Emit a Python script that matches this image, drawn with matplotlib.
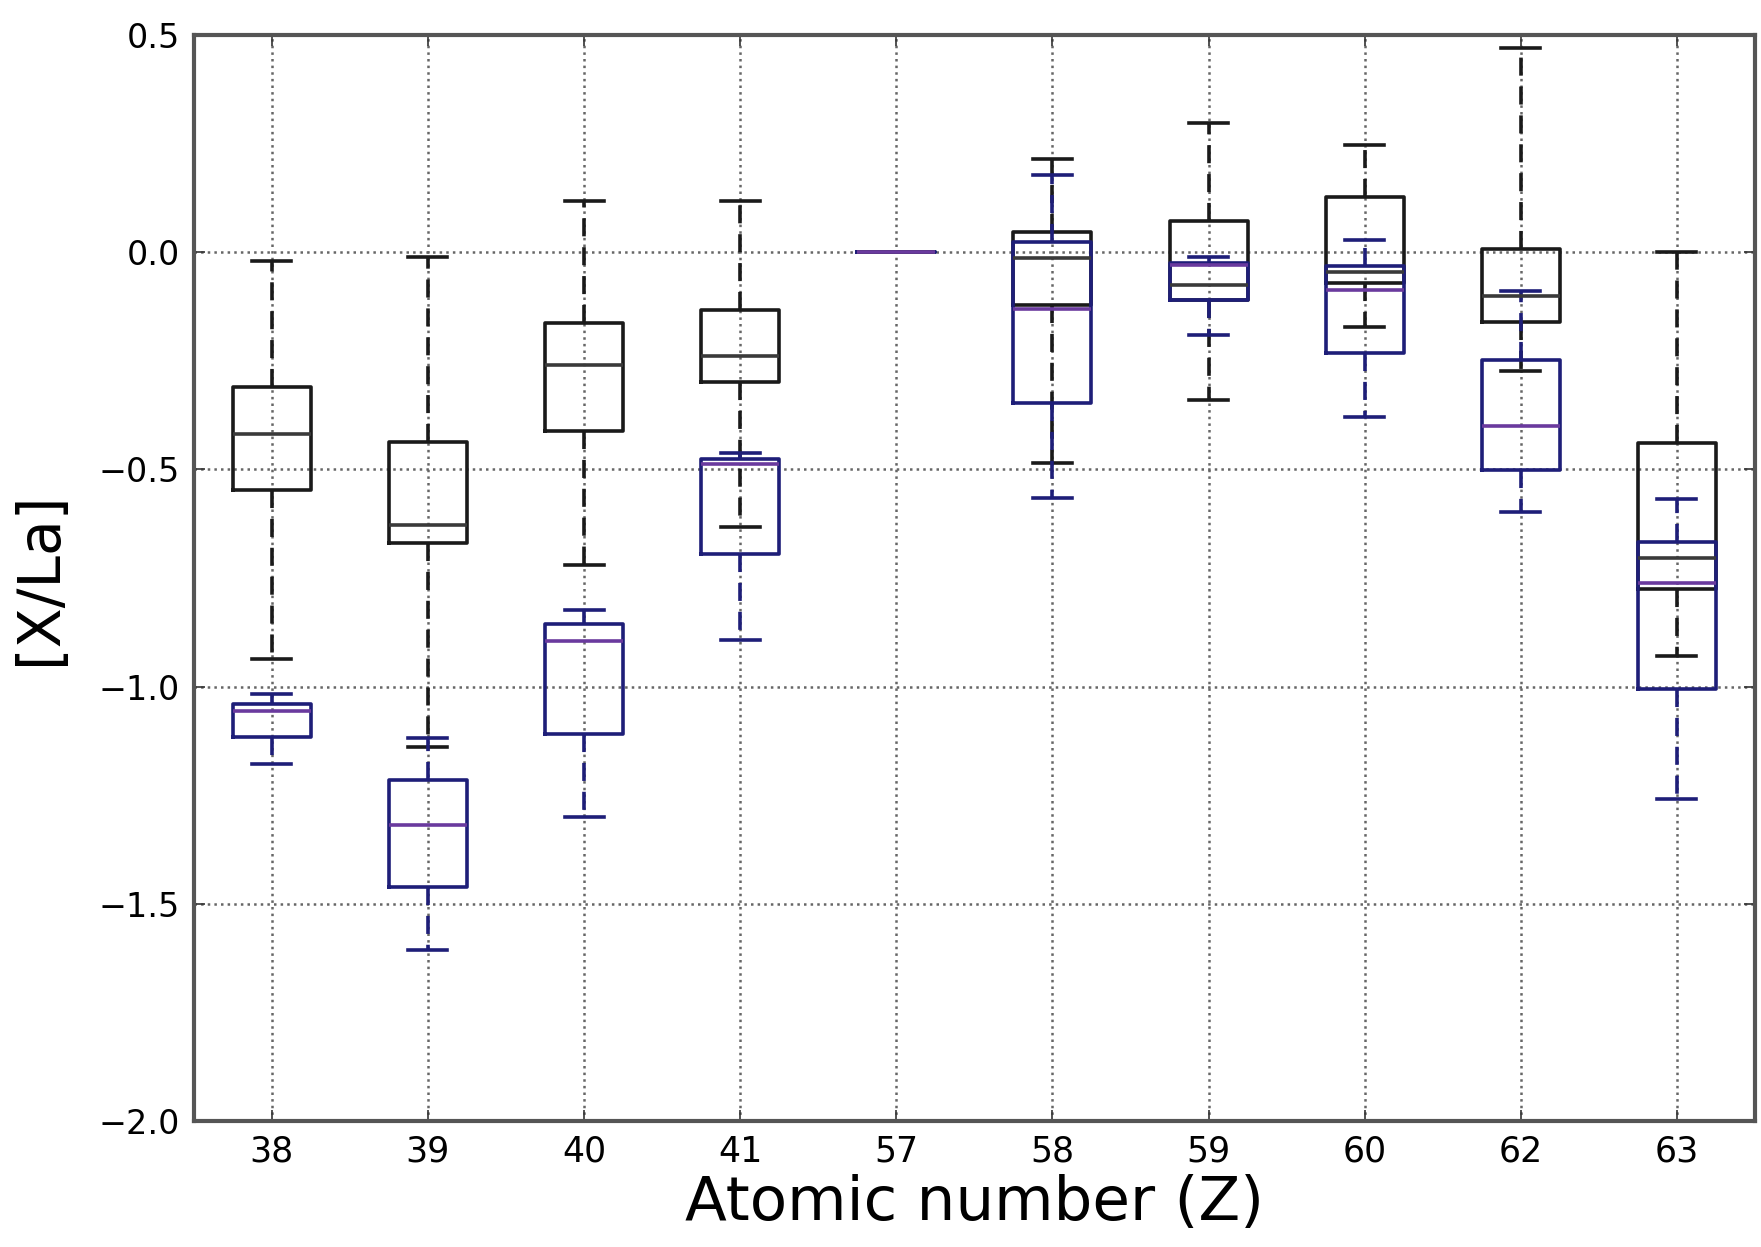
import matplotlib
matplotlib.use("Agg")
import matplotlib.pyplot as plt

# Atomic numbers on the x axis
atomic_z = ["38", "39", "40", "41", "57", "58", "59", "60", "62", "63"]

# First sample (black boxes): whisker ends, quartiles and medians of [X/La]
black_whishi = [-0.020, -0.012, 0.118, 0.117, 0.0, 0.214, 0.298, 0.247, 0.469, 0.0]
black_q3 = [-0.311, -0.438, -0.163, -0.134, 0.0, 0.047, 0.071, 0.126, 0.007, -0.439]
black_med = [-0.419, -0.628, -0.259, -0.240, 0.0, -0.013, -0.076, -0.045, -0.100, -0.705]
black_q1 = [-0.548, -0.669, -0.411, -0.298, 0.0, -0.121, -0.111, -0.071, -0.161, -0.776]
black_whislo = [-0.937, -1.138, -0.721, -0.632, 0.0, -0.485, -0.340, -0.172, -0.273, -0.930]

# Second sample (blue boxes)
blue_whishi = [-1.016, -1.118, -0.823, -0.462, 0.0, 0.177, -0.012, 0.028, -0.090, -0.569]
blue_q3 = [-1.039, -1.216, -0.857, -0.476, 0.0, 0.023, -0.024, -0.033, -0.248, -0.667]
blue_med = [-1.056, -1.318, -0.894, -0.488, 0.0, -0.131, -0.030, -0.086, -0.401, -0.761]
blue_q1 = [-1.116, -1.462, -1.110, -0.694, 0.0, -0.348, -0.111, -0.233, -0.501, -1.006]
blue_whislo = [-1.178, -1.607, -1.300, -0.892, 0.0, -0.565, -0.191, -0.379, -0.598, -1.258]


def make_stats(whislo, q1, med, q3, whishi):
    return [dict(whislo=a, q1=b, med=c, q3=d, whishi=e, fliers=[])
            for a, b, c, d, e in zip(whislo, q1, med, q3, whishi)]


def draw_boxes(ax, stats, color, median_color):
    lw = 2.6
    ax.bxp(stats, positions=range(1, len(stats) + 1), widths=0.5,
           showfliers=False,
           boxprops=dict(color=color, linewidth=lw),
           whiskerprops=dict(color=color, linewidth=lw, linestyle=(0, (5, 3))),
           capprops=dict(color=color, linewidth=lw),
           medianprops=dict(color=median_color, linewidth=lw))


fig = plt.figure(figsize=(17.61, 12.47), dpi=100)
ax = fig.add_axes([0.110, 0.101, 0.8866, 0.871])

black_stats = make_stats(black_whislo, black_q1, black_med, black_q3, black_whishi)
blue_stats = make_stats(blue_whislo, blue_q1, blue_med, blue_q3, blue_whishi)
draw_boxes(ax, black_stats, "#1a1a1a", "#3a3a3a")
draw_boxes(ax, blue_stats, "#1e1e78", "#6a3a9e")

ax.set_xlim(0.5, 10.5)
ax.set_ylim(-2.0, 0.5)
ax.set_yticks([-2.0, -1.5, -1.0, -0.5, 0.0, 0.5])
ax.set_xticks(range(1, len(atomic_z) + 1))
ax.set_xticklabels(atomic_z)

ax.grid(True, color="0.4", linestyle=":", linewidth=1.8)
ax.set_axisbelow(True)
for spine in ax.spines.values():
    spine.set_linewidth(3)
    spine.set_color("#555555")

ax.tick_params(axis="both", direction="in", length=8, width=1.2,
               top=True, right=True, color="#333333")
ax.tick_params(axis="x", labelsize=25, pad=10)
ax.tick_params(axis="y", labelsize=24, pad=10)

ax.set_xlabel("Atomic number (Z)", fontsize=44, labelpad=4)
ax.set_ylabel("[X/La]", fontsize=42, labelpad=22)

fig.savefig("out.png", dpi=100)
